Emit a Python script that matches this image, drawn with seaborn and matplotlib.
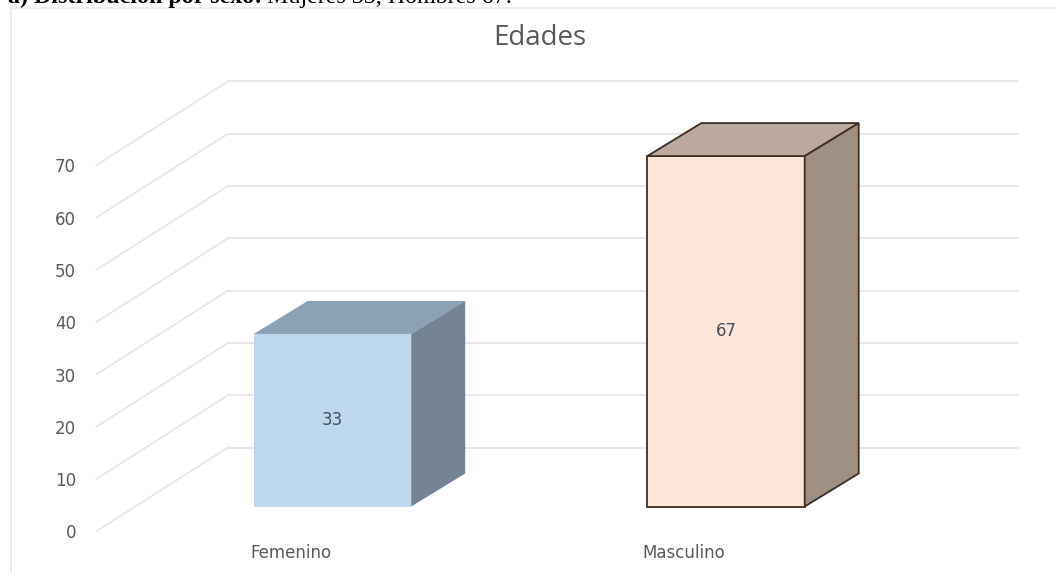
#!/usr/bin/env python3
import matplotlib
matplotlib.use('Agg')
import matplotlib.pyplot as plt
import seaborn as sns
from matplotlib.patches import Polygon, Rectangle
from matplotlib.transforms import Affine2D

categories = ['Femenino', 'Masculino']
values = [33, 67]
y_ticks = [0, 10, 20, 30, 40, 50, 60, 70]
chart_title = 'Edades'
caption_bold = 'a) Distribución por sexo:'
caption_rest = 'Mujeres 33, Hombres 67.'

front_colors = ['#BDD7EE', '#FDE5D8']
top_colors = ['#8BA1B5', '#BCA99E']
side_colors = ['#748494', '#A08F83']
edge_colors = ['none', '#3A2E25']

W, H = 1056, 573
PX_PER_CAT = 393.5
PX_PER_UNIT = 5.23
GRID = '#E6E6E6'
TXT = '#5A5A5A'


def main():
	sns.set_theme(style='white', font='DejaVu Sans')
	fig = plt.figure(figsize=(W / 100, H / 100), dpi=100, facecolor='white')

	# axes: bottom edge is the front of the floor, bars stand 25 px behind it
	left, bottom = 90, H - 531.5
	ax = fig.add_axes([left / W, bottom / H, (W - left) / W, (H - bottom) / H])
	ax.patch.set_alpha(0)
	sns.despine(ax=ax, left=True, bottom=True, right=True, top=True)

	sns.barplot(x=categories, y=values, hue=categories, palette=front_colors,
		saturation=1, width=0.4, legend=False, ax=ax, zorder=3)

	ax.set_xlim((left - 332.5) / PX_PER_CAT, (W - 332.5) / PX_PER_CAT)
	ax.set_ylim(-25 / PX_PER_UNIT, 506.5 / PX_PER_UNIT)
	ax.set_yticks(y_ticks)
	ax.tick_params(axis='both', length=0, colors=TXT)
	ax.tick_params(axis='y', pad=10, labelsize=12)
	ax.tick_params(axis='x', pad=9, labelsize=12)

	# walls: gridlines on the back wall and the diagonals running to the front
	to_back = ax.transData + Affine2D().translate(0, 59)
	for v in y_ticks:
		back_y = ax.transData.transform((0, v))[1] + 59
		ax.plot([(228 - 332.5) / PX_PER_CAT, (1018 - 332.5) / PX_PER_CAT], [v, v],
			color=GRID, lw=1.3, transform=to_back, zorder=1)
		ax.plot([96, 228], [back_y - 84, back_y], color=GRID, lw=1.3,
			transform=None, zorder=1, clip_on=False)

	# 3d faces are built from the bars seaborn drew
	dx, dy = 54 / PX_PER_CAT, 33 / PX_PER_UNIT
	for i, bar in enumerate(ax.patches[:len(values)]):
		x0, w, h = bar.get_x(), bar.get_width(), bar.get_height()
		x1 = x0 + w
		bar.set_edgecolor(edge_colors[i])
		bar.set_linewidth(1.3)
		top = Polygon([(x0, h), (x1, h), (x1 + dx, h + dy), (x0 + dx, h + dy)],
			facecolor=top_colors[i], edgecolor=edge_colors[i], lw=1.3, zorder=4)
		side = Polygon([(x1, 0), (x1 + dx, dy), (x1 + dx, h + dy), (x1, h)],
			facecolor=side_colors[i], edgecolor=edge_colors[i], lw=1.3, zorder=4)
		ax.add_patch(top)
		ax.add_patch(side)
	for cont in ax.containers:
		ax.bar_label(cont, label_type='center', color='#44505C', fontsize=12, zorder=6)

	# tick labels sit on the front plane, not on the bar plane
	for lab in ax.get_yticklabels():
		lab.set_transform(lab.get_transform() + Affine2D().translate(0, -25))
	for lab in ax.get_xticklabels():
		lab.set_transform(lab.get_transform() + Affine2D().translate(-42, 0))

	fig.text(540 / W, 1 - 38 / H, chart_title, ha='center', va='center',
		fontsize=20, color='#595959', family='Open Sans')

	# frame of the pasted chart and the clipped caption above it
	fig.add_artist(Rectangle((11 / W, -0.1), 1.1, 1 - 8 / H + 0.1, transform=fig.transFigure,
		fill=False, edgecolor='#E9ECF0', lw=1.2))
	t = fig.text(8 / W, 1 - 3 / H, caption_bold, ha='left', va='baseline', fontsize=17.3,
		family='Liberation Serif', weight='bold', color='black')
	fig.canvas.draw()
	end = t.get_window_extent().x1
	fig.text((end + 5) / W, 1 - 3 / H, caption_rest, ha='left', va='baseline', fontsize=17.3,
		family='Liberation Serif', color='black')

	fig.savefig('out.png', dpi=100)
	plt.close(fig)


if __name__ == '__main__':
	main()
